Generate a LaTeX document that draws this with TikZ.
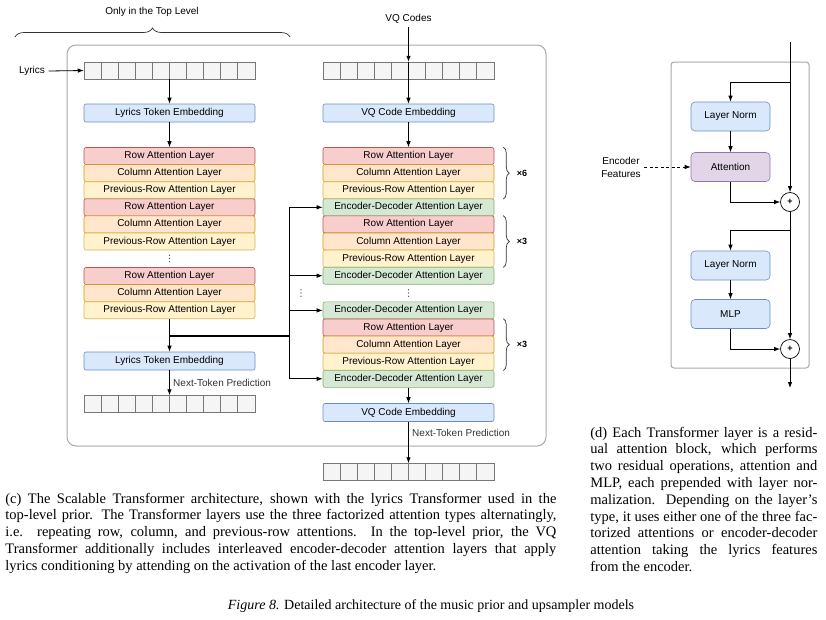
\documentclass[tikz,border=0pt]{standalone}
\usepackage{fontspec}
\setmainfont{Liberation Serif}
\setsansfont{Liberation Sans}
\usetikzlibrary{arrows.meta,decorations.pathreplacing}
\definecolor{rowFill}{HTML}{F8CECC}
\definecolor{rowLine}{HTML}{B85450}
\definecolor{colFill}{HTML}{FFE6CC}
\definecolor{colLine}{HTML}{D79B00}
\definecolor{prevFill}{HTML}{FFF2CC}
\definecolor{prevLine}{HTML}{D6B656}
\definecolor{edFill}{HTML}{D5E8D4}
\definecolor{edLine}{HTML}{82B366}
\definecolor{embFill}{HTML}{DAE8FC}
\definecolor{embLine}{HTML}{6C8EBF}
\definecolor{attFill}{HTML}{E1D5E7}
\definecolor{attLine}{HTML}{9673A6}
\definecolor{tokFill}{HTML}{F5F5F5}
\definecolor{tokLine}{HTML}{777777}
\definecolor{frameGray}{HTML}{A8A8A8}
\definecolor{braceGray}{HTML}{333333}

\begin{document}
\begin{tikzpicture}[x=1pt, y=-1pt, >={Latex[length=6pt,width=4.5pt]}, line width=0.8pt,
  font=\sffamily\fontsize{10}{12}\selectfont]

  \tikzstyle{L}=[rectangle, rounded corners=2pt, line width=0.6pt, minimum width=171pt, minimum height=17pt, inner sep=0pt]
  \tikzstyle{R}=[L, fill=rowFill, draw=rowLine]
  \tikzstyle{Cl}=[L, fill=colFill, draw=colLine]
  \tikzstyle{P}=[L, fill=prevFill, draw=prevLine]
  \tikzstyle{E}=[L, fill=edFill, draw=edLine]
  \tikzstyle{Emb}=[L, fill=embFill, draw=embLine, minimum height=18pt]
  \tikzstyle{T}=[rectangle, fill=tokFill, draw=tokLine, line width=0.5pt, minimum width=171pt, minimum height=17pt, inner sep=0pt]
  \tikzstyle{Blk}=[rectangle, rounded corners=4pt, line width=0.6pt, minimum width=79pt, minimum height=29pt, inner sep=0pt]
  \tikzstyle{Add}=[circle, draw, fill=white, line width=0.7pt, minimum size=19pt, inner sep=0pt, font=\sffamily\bfseries\fontsize{9}{9}\selectfont]
  \tikzstyle{X}=[black, font=\sffamily\bfseries\fontsize{9}{9}\selectfont]
  \tikzstyle{Cap}=[anchor=north west, inner sep=0pt, align=justify, font=\rmfamily\fontsize{14.5}{16.8}\selectfont]

  \useasboundingbox (0,0) rectangle (826,619);

  % (c) scalable transformer
  \node (onlyTop) at (152,12) {Only in the Top Level};
  \draw[braceGray, line width=0.7pt, decorate, decoration={brace, amplitude=9pt}] (15,37) -- (290,37);
  \draw[frameGray, line width=1pt, rounded corners=9pt] (67,45) rectangle (546,446);

  \node (lyrics) at (32,71) {Lyrics};
  \node (vqcodes) at (408.5,19) {VQ Codes};

  \node[T] (lyrIn) at (169.5,70.5) {};
  \node[T] (vqIn) at (408.5,70.5) {};
  \node[T] (lyrOut) at (169.5,404) {};
  \node[T] (vqOut) at (408.5,472) {};
  \foreach \s in {lyrIn,vqIn,lyrOut,vqOut}
    \foreach \i in {1,...,9}
      \draw[tokLine, line width=0.5pt] (\s.north west) ++(\i*17.1,0) -- ++(0,17);

  \node[Emb] (lyrEmb) at (169.5,113) {Lyrics Token Embedding};
  \node[Emb] (vqEmb) at (408.5,113) {VQ Code Embedding};

  \draw[->] (lyrics.east) -- (lyrIn.west);
  \draw[->] (vqcodes.south) -- (vqIn.north);
  \draw[->] (lyrIn.south) -- (lyrEmb.north);
  \draw[->] (vqIn.north) -- (vqEmb.north);

  % lyrics stack
  \node[R] (lRow1) at (169.5,156) {Row Attention Layer};
  \node[Cl] (lCol1) at (169.5,173.1) {Column Attention Layer};
  \node[P] (lPrev1) at (169.5,190.2) {Previous-Row Attention Layer};
  \node[R] (lRow2) at (169.5,207.3) {Row Attention Layer};
  \node[Cl] (lCol2) at (169.5,224.4) {Column Attention Layer};
  \node[P] (lPrev2) at (169.5,241.5) {Previous-Row Attention Layer};
  \coordinate (lDots) at (169.5,258.5);
  \node[R] (lRow3) at (169.5,276) {Row Attention Layer};
  \node[Cl] (lCol3) at (169.5,293.1) {Column Attention Layer};
  \node[P] (lPrev3) at (169.5,310.2) {Previous-Row Attention Layer};

  % vq stack
  \node[R] (vRow1) at (408.5,156) {Row Attention Layer};
  \node[Cl] (vCol1) at (408.5,173.1) {Column Attention Layer};
  \node[P] (vPrev1) at (408.5,190.2) {Previous-Row Attention Layer};
  \node[E] (vEd1) at (408.5,207.3) {Encoder-Decoder Attention Layer};
  \node[R] (vRow2) at (408.5,224.4) {Row Attention Layer};
  \node[Cl] (vCol2) at (408.5,241.5) {Column Attention Layer};
  \node[P] (vPrev2) at (408.5,258.6) {Previous-Row Attention Layer};
  \node[E] (vEd2) at (408.5,275.7) {Encoder-Decoder Attention Layer};
  \coordinate (vDots) at (408.5,293);
  \node[E] (vEd3) at (408.5,310.4) {Encoder-Decoder Attention Layer};
  \node[R] (vRow3) at (408.5,327.5) {Row Attention Layer};
  \node[Cl] (vCol3) at (408.5,344.6) {Column Attention Layer};
  \node[P] (vPrev3) at (408.5,361.7) {Previous-Row Attention Layer};
  \node[E] (vEd4) at (408.5,378.8) {Encoder-Decoder Attention Layer};
  \coordinate (busDots) at (301,293);

  % vertical ellipses
  \foreach \c in {lDots,vDots,busDots}
    \foreach \d in {-3.2,0,3.2}
      \fill[braceGray] ([yshift=\d pt]\c) circle (0.6pt);

  \draw[->] (lyrEmb.south) -- (lRow1.north);
  \draw[->] (vqEmb.south) -- (vRow1.north);

  \draw[braceGray, line width=0.7pt, decorate, decoration={brace, amplitude=6pt}]
    ([xshift=9pt]vRow1.north east) -- ([xshift=9pt]vPrev1.south east) node[midway, right=10pt, X] {×6};
  \draw[braceGray, line width=0.7pt, decorate, decoration={brace, amplitude=6pt}]
    ([xshift=9pt]vRow2.north east) -- ([xshift=9pt]vPrev2.south east) node[midway, right=10pt, X] {×3};
  \draw[braceGray, line width=0.7pt, decorate, decoration={brace, amplitude=6pt}]
    ([xshift=9pt]vRow3.north east) -- ([xshift=9pt]vPrev3.south east) node[midway, right=10pt, X] {×3};

  % encoder output to the encoder-decoder layers
  \node[Emb] (lyrOutEmb) at (169.5,361) {Lyrics Token Embedding};
  \node[Emb] (vqOutEmb) at (408.5,412.5) {VQ Code Embedding};
  \coordinate (busL) at (169.5,336);
  \coordinate (busR) at (289,336);
  \draw[->] (lPrev3.south) -- (lyrOutEmb.north);
  \draw[line width=1.2pt] (busL) -- (busR);
  \draw (busR |- vEd1.west) -- (busR |- vEd4.west);
  \foreach \e in {vEd1,vEd2,vEd3,vEd4}
    \draw[->] (busR |- \e.west) -- (\e.west);

  \draw[->] (vEd4.south) -- (vqOutEmb.north);
  \draw[->] (lyrOutEmb.south) -- (lyrOut.north) node[pos=0.5, right, text=braceGray] {Next-Token Prediction};
  \draw[->] (vqOutEmb.south) -- (vqOut.north) node[pos=0.28, right, text=braceGray] {Next-Token Prediction};

  % (d) transformer layer
  \draw[frameGray, line width=1pt, rounded corners=3pt] (671,62) rectangle (809,368);
  \node[Blk, fill=embFill, draw=embLine] (ln1) at (730.5,116.5) {Layer Norm};
  \node[Blk, fill=attFill, draw=attLine] (att) at (730.5,167) {Attention};
  \node[Add] (add1) at (790,202) {+};
  \node[Blk, fill=embFill, draw=embLine] (ln2) at (730.5,265.5) {Layer Norm};
  \node[Blk, fill=embFill, draw=embLine] (mlp) at (730.5,314) {MLP};
  \node[Add] (add2) at (790,349) {+};
  \node[align=center, font=\sffamily\fontsize{10}{13}\selectfont] (encfeat) at (621,167) {Encoder\\Features};

  \coordinate (resIn) at (790,42);
  \coordinate (split1) at (790,82);
  \coordinate (split2) at (790,230);
  \coordinate (resOut) at (790,388);

  \draw[->] (resIn) -- (add1.north);
  \draw[->] (split1) -| (ln1.north);
  \draw[->] (ln1) -- (att);
  \draw[->] (att.south) |- (add1.west);
  \draw[->, dash pattern=on 3pt off 2.5pt] (encfeat.east) -- (att.west);
  \draw[->] (add1.south) -- (add2.north);
  \draw[->] (split2) -| (ln2.north);
  \draw[->] (ln2) -- (mlp);
  \draw[->] (mlp.south) |- (add2.west);
  \draw[->] (add2.south) -- (resOut);

  % captions
  \node[Cap, text width=551pt] (capC) at (5,492.5) {\hyphenpenalty=10000 \exhyphenpenalty=10000 \tolerance=9999
    (c) The Scalable Transformer architecture, shown with the lyrics Transformer used in the\linebreak
    top-level prior. The Transformer layers use the three factorized attention types alternatingly,\linebreak
    i.e. repeating row, column, and previous-row attentions. In the top-level prior, the VQ\linebreak
    Transformer additionally includes interleaved encoder-decoder attention layers that apply\linebreak
    lyrics conditioning by attending on the activation of the last encoder layer.};
  \node[Cap, text width=227pt] (capD) at (590,426.5) {\hyphenpenalty=10000 \exhyphenpenalty=10000 \tolerance=9999
    (d) Each Transformer layer is a resid-\linebreak
    ual attention block, which performs\linebreak
    two residual operations, attention and\linebreak
    MLP, each prepended with layer nor-\linebreak
    malization. Depending on the layer’s\linebreak
    type, it uses either one of the three fac-\linebreak
    torized attentions or encoder-decoder\linebreak
    attention taking the lyrics features\linebreak
    from the encoder.};
  \node[font=\rmfamily\fontsize{14}{16}\selectfont] (capFig) at (431,606) {\textit{Figure 8.} Detailed architecture of the music prior and upsampler models};

\end{tikzpicture}
\end{document}
